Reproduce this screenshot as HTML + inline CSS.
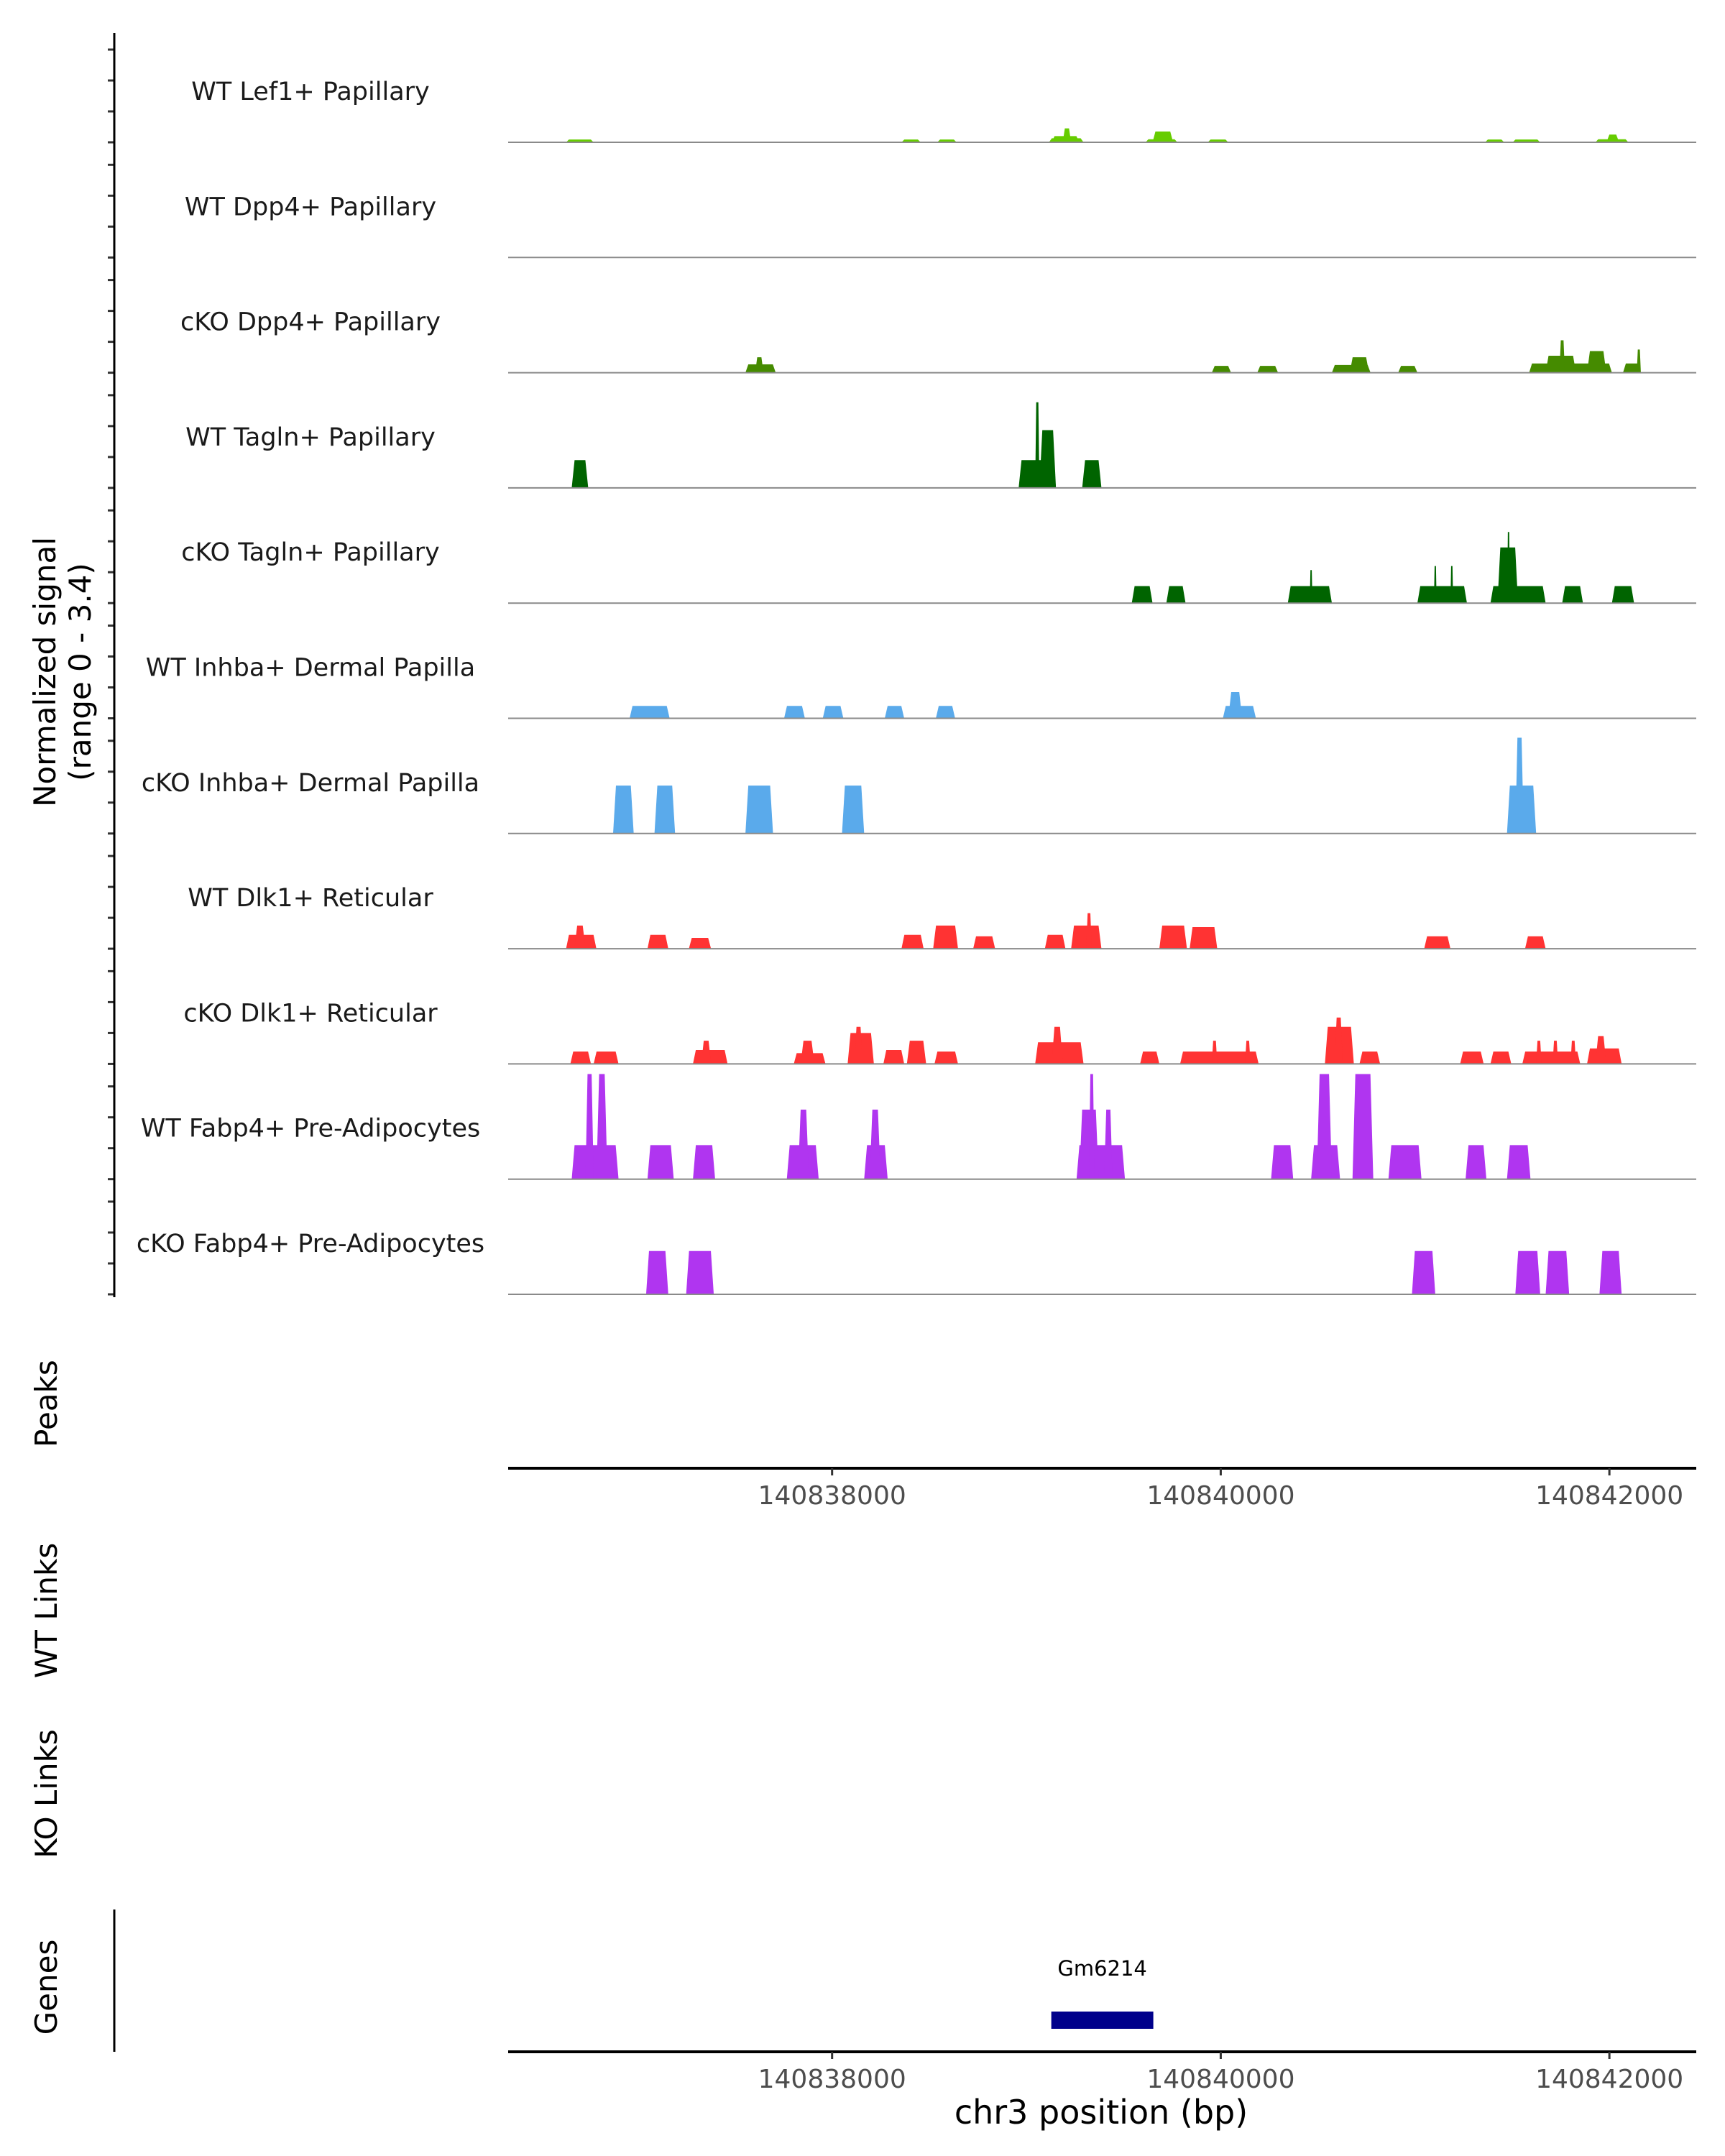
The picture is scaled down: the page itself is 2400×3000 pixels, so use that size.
<!DOCTYPE html>
<html><head><meta charset="utf-8"><style>
html,body{margin:0;padding:0;background:#fff}
svg{display:block}
text{font-family:"DejaVu Sans","Liberation Sans",sans-serif}
</style></head><body>
<svg id="chart" width="2400" height="3000" viewBox="0 0 2400 3000" xmlns="http://www.w3.org/2000/svg">
<rect width="2400" height="3000" fill="#fff"/>
<g id="tracks"></g>
<line x1="159" y1="46" x2="159" y2="1805" stroke="#000" stroke-width="3"/>
<text transform="translate(77,935) rotate(-90)" text-anchor="middle" font-size="42" fill="#000">Normalized signal</text>
<text transform="translate(126,935) rotate(-90)" text-anchor="middle" font-size="42" fill="#000">(range 0 - 3.4)</text>
<text transform="translate(79,1953) rotate(-90)" text-anchor="middle" font-size="42" fill="#000">Peaks</text>
<line x1="707" y1="2043" x2="2360" y2="2043" stroke="#000" stroke-width="4"/>
<g id="axis1"></g>
<text transform="translate(79,2241) rotate(-90)" text-anchor="middle" font-size="42" fill="#000">WT Links</text>
<text transform="translate(79,2496) rotate(-90)" text-anchor="middle" font-size="42" fill="#000">KO Links</text>
<text transform="translate(79,2765) rotate(-90)" text-anchor="middle" font-size="42" fill="#000">Genes</text>
<line x1="159" y1="2657" x2="159" y2="2855" stroke="#000" stroke-width="3"/>
<g id="genes"></g>
<line x1="707" y1="2855" x2="2360" y2="2855" stroke="#000" stroke-width="4"/>
<g id="axis2"></g>
<text x="1532" y="2955" text-anchor="middle" font-size="46" fill="#000">chr3 position (bp)</text>
</svg>
<script>
const regionStart = 140836333;
const regionEnd = 140842447;
const trackNames = ["WT Lef1+ Papillary","WT Dpp4+ Papillary","cKO Dpp4+ Papillary","WT Tagln+ Papillary","cKO Tagln+ Papillary","WT Inhba+ Dermal Papilla","cKO Inhba+ Dermal Papilla","WT Dlk1+ Reticular","cKO Dlk1+ Reticular","WT Fabp4+ Pre-Adipocytes","cKO Fabp4+ Pre-Adipocytes"];
const trackColors = ["#66cc00","#66cc00","#458b00","#006400","#006400","#5aaaeb","#5aaaeb","#ff3333","#ff3333","#b035f0","#b035f0"];
const xTicks = [140838000,140840000,140842000];
const yTicks = [0,1,2,3];
const geneName = "Gm6214";
const geneStart = 140839128;
const geneEnd = 140839653;
const sLef1 = [[140836631,140836773,0.09],[140838357,140838456,0.09],[140838541,140838641,0.09],[140839116,140839294,0.13],[140839130,140839272,0.2],[140839187,140839230,0.45],[140839613,140839777,0.1],[140839649,140839755,0.35],[140839933,140840039,0.09],[140841360,140841459,0.09],[140841502,140841644,0.09],[140841928,140842098,0.1],[140841985,140842050,0.25]];
const sDpp4WT = [];
const sDpp4KO = [[140837554,140837710,0.27],[140837604,140837647,0.5],[140839954,140840053,0.22],[140840188,140840295,0.22],[140840572,140840771,0.25],[140840664,140840763,0.5],[140840913,140841012,0.22],[140841587,140842013,0.3],[140841672,140841828,0.55],[140841743,140841771,1.05],[140841885,140841984,0.7],[140842070,140842162,0.3],[140842141,140842162,0.75]];
const sTaglnWT = [[140836660,140836745,0.9],[140838960,140839152,0.9],[140839045,140839067,2.77],[140839067,140839152,1.87],[140839287,140839386,0.9]];
const sTaglnKO = [[140839542,140839649,0.55],[140839720,140839819,0.55],[140840345,140840572,0.55],[140840458,140840472,1.07],[140841012,140841267,0.55],[140841097,140841111,1.2],[140841182,140841196,1.2],[140841388,140841672,0.55],[140841424,140841530,1.8],[140841474,140841488,2.3],[140841757,140841864,0.55],[140842013,140842127,0.55]];
const sInhbaWT = [[140836958,140837164,0.4],[140837753,140837860,0.4],[140837952,140838058,0.4],[140838271,140838371,0.4],[140838534,140838633,0.4],[140840011,140840181,0.4],[140840039,140840110,0.85]];
const sInhbaKO = [[140836873,140836979,1.55],[140837086,140837192,1.55],[140837554,140837696,1.55],[140838051,140838165,1.55],[140841473,140841623,1.55],[140841516,140841559,3.1]];
const sDlk1WT = [[140836631,140836787,0.45],[140836674,140836731,0.75],[140837050,140837157,0.45],[140837263,140837377,0.35],[140838357,140838471,0.45],[140838520,140838648,0.75],[140838726,140838839,0.4],[140839095,140839201,0.45],[140839230,140839386,0.75],[140839308,140839336,1.15],[140839684,140839826,0.75],[140839840,140839982,0.7],[140841047,140841182,0.4],[140841566,140841672,0.4]];
const sDlk1KO = [[140836653,140836759,0.4],[140836773,140836901,0.4],[140837284,140837462,0.45],[140837327,140837377,0.75],[140837803,140837966,0.35],[140837838,140837909,0.75],[140838080,140838215,1.0],[140838115,140838157,1.2],[140838264,140838371,0.45],[140838385,140838484,0.75],[140838527,140838648,0.4],[140839045,140839294,0.7],[140839130,140839187,1.2],[140839585,140839684,0.4],[140839791,140840195,0.4],[140839954,140839982,0.75],[140840125,140840153,0.75],[140840536,140840685,1.2],[140840586,140840628,1.5],[140840714,140840820,0.4],[140841232,140841353,0.4],[140841388,140841495,0.4],[140841552,140841850,0.4],[140841623,140841651,0.75],[140841708,140841736,0.75],[140841800,140841828,0.75],[140841885,140842063,0.5],[140841928,140841984,0.9]];
const sFabp4WT = [[140836660,140836901,1.1],[140836731,140836773,3.4],[140836787,140836844,3.4],[140837050,140837185,1.1],[140837284,140837398,1.1],[140837767,140837931,1.1],[140837824,140837881,2.25],[140838165,140838286,1.1],[140838193,140838250,2.25],[140839258,140839507,1.1],[140839272,140839372,2.25],[140839322,140839350,3.4],[140839400,140839443,2.25],[140840259,140840373,1.1],[140840465,140840614,1.1],[140840494,140840572,3.4],[140840678,140840785,3.4],[140840863,140841033,1.1],[140841260,140841367,1.1],[140841473,140841594,1.1]];
const sFabp4KO = [[140837043,140837157,1.4],[140837249,140837391,1.4],[140840984,140841104,1.4],[140841516,140841644,1.4],[140841672,140841793,1.4],[140841949,140842063,1.4]];
const signals = [sLef1,sDpp4WT,sDpp4KO,sTaglnWT,sTaglnKO,sInhbaWT,sInhbaKO,sDlk1WT,sDlk1KO,sFabp4WT,sFabp4KO];

const NS = "http://www.w3.org/2000/svg";
const X0 = 707, X1 = 2360;
function xScale(bp){ return X0 + (bp - regionStart) / (regionEnd - regionStart) * (X1 - X0); }
const unitPx = 43, firstBase = 198, trackStep = 160.3;
function yScale(i, v){ return firstBase + i * trackStep - v * unitPx; }
function mk(tag, attrs, parent){ const e = document.createElementNS(NS, tag); for (const k in attrs) e.setAttribute(k, attrs[k]); parent.appendChild(e); return e; }

const tg = document.getElementById("tracks");
trackNames.forEach((name, i) => {
  const g = mk("g", {}, tg);
  
  
  const base = yScale(i, 0);
  yTicks.forEach(t => {
    const tk = mk("line", {x1:150, x2:159, y1:yScale(i,t), y2:yScale(i,t), stroke:"#333", "stroke-width":3}, g);
    
    
  });
  signals[i].forEach(s => {
    const xa = xScale(s[0]), xb = xScale(s[1]), yt = yScale(i, s[2]);
    const sl = Math.min(4, (xb - xa) / 4);
    const p = mk("polygon", {points: `${xa},${base} ${xa+sl},${yt} ${xb-sl},${yt} ${xb},${base}`, fill: trackColors[i]}, g);
    
    
  });
  const bl = mk("line", {x1:X0, x2:X1, y1:base, y2:base, stroke:"#8a8a8a", "stroke-width":2}, g);
  
  
  const lb = mk("text", {x:432, y:base - 59, "text-anchor":"middle", "font-size":35, fill:"#1a1a1a"}, g);
  lb.textContent = name;
  
  
});

function drawAxis(id, yAxis){
  const g = document.getElementById(id);
  xTicks.forEach(t => {
    const x = xScale(t);
    const l = mk("line", {x1:x, x2:x, y1:yAxis, y2:yAxis+10, stroke:"#333", "stroke-width":3}, g);
    
    
    const tx = mk("text", {x:x, y:yAxis+50, "text-anchor":"middle", "font-size":36, fill:"#4d4d4d"}, g);
    tx.textContent = String(t);
    
    
  });
}
drawAxis("axis1", 2043);
drawAxis("axis2", 2855);

const gg = document.getElementById("genes");
const gb = mk("rect", {x:xScale(geneStart), y:2799, width:xScale(geneEnd)-xScale(geneStart), height:24, fill:"#00008b"}, gg);


const gl = mk("text", {x:(xScale(geneStart)+xScale(geneEnd))/2, y:2749, "text-anchor":"middle", "font-size":29, fill:"#000"}, gg);
gl.textContent = geneName;


</script>
</body></html>
